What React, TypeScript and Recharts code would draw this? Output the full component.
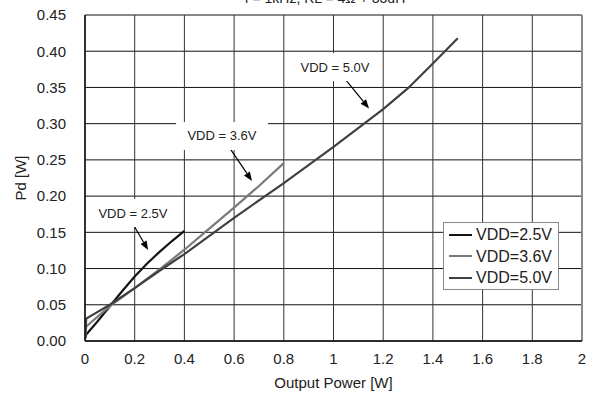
import React from 'react';
import { LineChart, Line, XAxis, YAxis, CartesianGrid, ReferenceLine, ReferenceDot, Legend } from 'recharts';

const xTicks = [0, 0.2, 0.4, 0.6, 0.8, 1, 1.2, 1.4, 1.6, 1.8, 2];
const yTicks = [0, 0.05, 0.1, 0.15, 0.2, 0.25, 0.3, 0.35, 0.4, 0.45];

const seriesNames = ['VDD=2.5V', 'VDD=3.6V', 'VDD=5.0V'];
const seriesColors = ['#141414', '#7a7a7a', '#404040'];

const x25 = [0, 0.005, 0.05, 0.1, 0.15, 0.2, 0.25, 0.3, 0.35, 0.4];
const pd25 = [0.003, 0.009, 0.027, 0.048, 0.069, 0.089, 0.107, 0.123, 0.138, 0.152];

const x36 = [0, 0.005, 0.1, 0.2, 0.3, 0.4, 0.5, 0.6, 0.7, 0.8];
const pd36 = [0.004, 0.02, 0.048, 0.073, 0.099, 0.126, 0.155, 0.184, 0.214, 0.2455];

const x50 = [0, 0.005, 0.1, 0.2, 0.3, 0.4, 0.6, 0.8, 1.0, 1.2, 1.3, 1.4, 1.5];
const pd50 = [0.004, 0.031, 0.05, 0.073, 0.097, 0.12, 0.17, 0.218, 0.268, 0.32, 0.349, 0.383, 0.418];

const notes = [
  { text: 'VDD = 2.5V', tx: 0.193, ty: 0.1766, ax1: 0.197, ay1: 0.159, ax2: 0.254, ay2: 0.1255 },
  { text: 'VDD = 3.6V', tx: 0.551, ty: 0.283, ax1: 0.579, ay1: 0.268, ax2: 0.672, ay2: 0.221 },
  { text: 'VDD = 5.0V', tx: 1.006, ty: 0.378, ax1: 1.05, ay1: 0.36, ax2: 1.143, ay2: 0.321 },
];

const titleText = 'f = 1kHz, RL = 4Ω + 33uH';

const toData = (xs: number[], ys: number[]) => xs.map((x, i) => ({ x, y: ys[i] }));
const series = [toData(x25, pd25), toData(x36, pd36), toData(x50, pd50)];

const FONT = '"Liberation Sans", Arial, sans-serif';

const fmtX = (v: number) => String(Number(v.toFixed(1)));
const fmtY = (v: number) => v.toFixed(2);

const Arrow = (p: any) => {
  const { x1, y1, x2, y2 } = p;
  const dx = x2 - x1;
  const dy = y2 - y1;
  const len = Math.sqrt(dx * dx + dy * dy) || 1;
  const ux = dx / len;
  const uy = dy / len;
  const hl = 9;
  const hw = 3.5;
  const bx = x2 - ux * hl;
  const by = y2 - uy * hl;
  const pts = `${x2},${y2} ${bx - uy * hw},${by + ux * hw} ${bx + uy * hw},${by - ux * hw}`;
  return (
    <g>
      <line x1={x1} y1={y1} x2={bx} y2={by} stroke="#000" strokeWidth={1.2} />
      <polygon points={pts} fill="#000" />
    </g>
  );
};

const NoteBox = (text: string) => (p: any) => {
  const { cx, cy } = p;
  const w = 92;
  const h = 28;
  return (
    <g>
      <rect x={cx - w / 2} y={cy - h / 2} width={w} height={h} fill="#fff" />
      <text x={cx} y={cy} textAnchor="middle" dominantBaseline="central" fontFamily={FONT} fontSize={13} fill="#222">
        {text}
      </text>
    </g>
  );
};

const LegendBox = () => (
  <div
    style={{
      position: 'absolute',
      left: 0,
      top: 0,
      boxSizing: 'border-box',
      border: '1px solid #8a8a8a',
      background: '#fff',
      padding: '1px 4px 1px 5px',
      fontFamily: FONT,
      fontSize: 16,
      color: '#222',
      lineHeight: '21.5px',
      width: 116,
      height: 68,
    }}
  >
    {seriesNames.map((n, i) => (
      <div key={n} style={{ display: 'flex', alignItems: 'center', whiteSpace: 'nowrap' }}>
        <span style={{ display: 'inline-block', width: 23, height: 2, background: seriesColors[i], marginRight: 4 }} />
        <span>{n}</span>
      </div>
    ))}
  </div>
);

export default function App() {
  return (
    <div style={{ position: 'absolute', left: 0, top: 0, width: 597, height: 394, background: '#fff' }}>
      <LineChart width={597} height={394} margin={{ top: 15, right: 15, bottom: 0, left: 0 }}>
        <CartesianGrid horizontal={true} vertical={false} stroke="#111" strokeWidth={1} />
        <CartesianGrid horizontal={false} vertical={true} stroke="#333" strokeWidth={1} />
        <XAxis
          type="number"
          dataKey="x"
          domain={[0, 2]}
          ticks={xTicks}
          tickFormatter={fmtX}
          allowDataOverflow
          height={53}
          tickLine={false}
          axisLine={{ stroke: '#111', strokeWidth: 1.5 }}
          tickMargin={6}
          tick={{ fill: '#222', fontSize: 15, fontFamily: FONT }}
          label={{ value: 'Output Power [W]', position: 'insideBottom', offset: 6, fill: '#222', fontSize: 15, fontFamily: FONT }}
        />
        <YAxis
          type="number"
          dataKey="y"
          domain={[0, 0.45]}
          ticks={yTicks}
          tickFormatter={fmtY}
          allowDataOverflow
          width={85}
          tickLine={false}
          axisLine={{ stroke: '#111', strokeWidth: 1.5 }}
          tickMargin={13}
          tick={{ fill: '#222', fontSize: 15, fontFamily: FONT }}
          label={{ value: 'Pd [W]', angle: -90, position: 'center', dx: -22, fill: '#222', fontSize: 15, fontFamily: FONT }}
        />
        <ReferenceLine x={2} stroke="#8a8a8a" strokeWidth={2} />
        {notes.map((n) => (
          <ReferenceDot key={n.text} x={n.tx} y={n.ty} r={0} shape={NoteBox(n.text)} />
        ))}
        {notes.map((n) => (
          <ReferenceLine
            key={n.text + 'a'}
            segment={[{ x: n.ax1, y: n.ay1 }, { x: n.ax2, y: n.ay2 }]}
            shape={Arrow}
          />
        ))}
        {series.map((d, i) => (
          <Line
            key={seriesNames[i]}
            data={d}
            dataKey="y"
            name={seriesNames[i]}
            type="linear"
            stroke={seriesColors[i]}
            strokeWidth={2.2}
            dot={false}
            isAnimationActive={false}
          />
        ))}
        <Legend
          layout="horizontal"
          verticalAlign="top"
          align="center"
          content={LegendBox}
          wrapperStyle={{ position: 'absolute', left: 443, top: 222, width: 0, height: 0, overflow: 'visible' }}
        />
        <text x={325} y={3} textAnchor="middle" fontFamily={FONT} fontSize={14} fill="#222">
          {titleText}
        </text>
      </LineChart>
    </div>
  );
}
